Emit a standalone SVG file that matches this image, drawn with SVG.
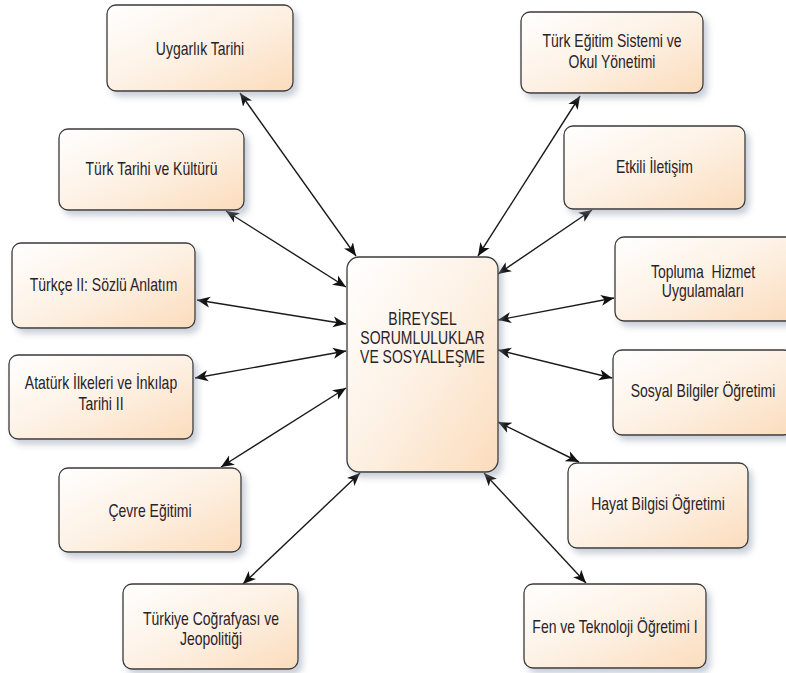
<svg xmlns="http://www.w3.org/2000/svg" width="786" height="673" viewBox="0 0 786 673">
<defs>
<linearGradient id="g" x1="0" y1="0" x2="1" y2="1">
<stop offset="0" stop-color="#ffffff"/>
<stop offset="0.5" stop-color="#fdf1e4"/>
<stop offset="1" stop-color="#fbdcbc"/>
</linearGradient>
<filter id="sh" x="-10%" y="-10%" width="130%" height="140%">
<feDropShadow dx="4" dy="5" stdDeviation="3" flood-color="#8a94a8" flood-opacity="0.45"/>
</filter>
<marker id="ah" markerUnits="userSpaceOnUse" markerWidth="16" markerHeight="12" refX="13" refY="6" orient="auto-start-reverse">
<path d="M0,0.5 L13,6 L0,11.5 L3.5,6 z" fill="#111"/>
</marker>
</defs>
<style>
.n rect{fill:url(#g);stroke:#3a3a3a;stroke-width:1.3;filter:url(#sh)}
.n text{font-family:"Liberation Sans",Arial,sans-serif;font-size:14px;fill:#2a2228;text-anchor:middle;white-space:pre}
.c line{stroke:#1a1a1a;stroke-width:1.4;marker-start:url(#ah);marker-end:url(#ah)}
</style>
<rect width="786" height="673" fill="#ffffff"/>
<g id="connectors" class="c">
<line x1="240" y1="93" x2="356" y2="256"/>
<line x1="226" y1="211" x2="346" y2="287"/>
<line x1="197" y1="300" x2="346" y2="324"/>
<line x1="195" y1="378" x2="346" y2="351"/>
<line x1="221" y1="467" x2="346" y2="388"/>
<line x1="243" y1="584" x2="360" y2="473"/>
<line x1="580" y1="96" x2="478" y2="256"/>
<line x1="592" y1="210" x2="498" y2="274"/>
<line x1="614" y1="298" x2="498" y2="320"/>
<line x1="612" y1="378" x2="498" y2="350"/>
<line x1="579" y1="462" x2="498" y2="422"/>
<line x1="586" y1="583" x2="484" y2="473"/>
</g>
<g id="center" class="n"><rect x="347" y="257" width="151" height="215" rx="12"/><text transform="translate(422.5,325) scale(1,1.25)">BİREYSEL</text><text transform="translate(422.5,344) scale(1,1.25)">SORUMLULUKLAR</text><text transform="translate(422.5,363) scale(1,1.25)">VE SOSYALLEŞME</text></g>
<g id="uygarlik" class="n"><rect x="107" y="5" width="186" height="86" rx="9"/><text transform="translate(200,55) scale(1,1.25)">Uygarlık Tarihi</text></g>
<g id="turk-tarihi" class="n"><rect x="59" y="129" width="185" height="81" rx="9"/><text transform="translate(151.5,175) scale(1,1.25)">Türk Tarihi ve Kültürü</text></g>
<g id="turkce" class="n"><rect x="12" y="243" width="183" height="85" rx="9"/><text transform="translate(103.5,291) scale(1,1.25)">Türkçe II: Sözlü Anlatım</text></g>
<g id="ataturk" class="n"><rect x="9" y="355" width="184" height="84" rx="9"/><text transform="translate(101,389) scale(1,1.25)">Atatürk İlkeleri ve İnkılap</text><text transform="translate(101,410) scale(1,1.25)">Tarihi II</text></g>
<g id="cevre" class="n"><rect x="59" y="468" width="182" height="84" rx="9"/><text transform="translate(150,517) scale(1,1.25)">Çevre Eğitimi</text></g>
<g id="turkiye" class="n"><rect x="123" y="584" width="175" height="85" rx="9"/><text transform="translate(211,625) scale(1,1.25)">Türkiye Coğrafyası ve</text><text transform="translate(211,645) scale(1,1.25)">Jeopolitiği</text></g>
<g id="egitim" class="n"><rect x="521" y="12" width="182" height="81" rx="9"/><text transform="translate(612,47) scale(1,1.25)">Türk Eğitim Sistemi ve</text><text transform="translate(612,68) scale(1,1.25)">Okul Yönetimi</text></g>
<g id="etkili" class="n"><rect x="564" y="126" width="181" height="83" rx="9"/><text transform="translate(654.5,173) scale(1,1.25)">Etkili İletişim</text></g>
<g id="topluma" class="n"><rect x="615" y="237" width="180" height="84" rx="9"/><text transform="translate(703,278) scale(1,1.25)">Topluma  Hizmet</text><text transform="translate(703,297) scale(1,1.25)">Uygulamaları</text></g>
<g id="sosyal" class="n"><rect x="613" y="350" width="180" height="85" rx="9"/><text transform="translate(703,397) scale(1,1.25)">Sosyal Bilgiler Öğretimi</text></g>
<g id="hayat" class="n"><rect x="568" y="463" width="180" height="85" rx="9"/><text transform="translate(658,510) scale(1,1.25)">Hayat Bilgisi Öğretimi</text></g>
<g id="fen" class="n"><rect x="524" y="584" width="182" height="84" rx="9"/><text transform="translate(615,633) scale(1,1.25)">Fen ve Teknoloji Öğretimi I</text></g>
</svg>
